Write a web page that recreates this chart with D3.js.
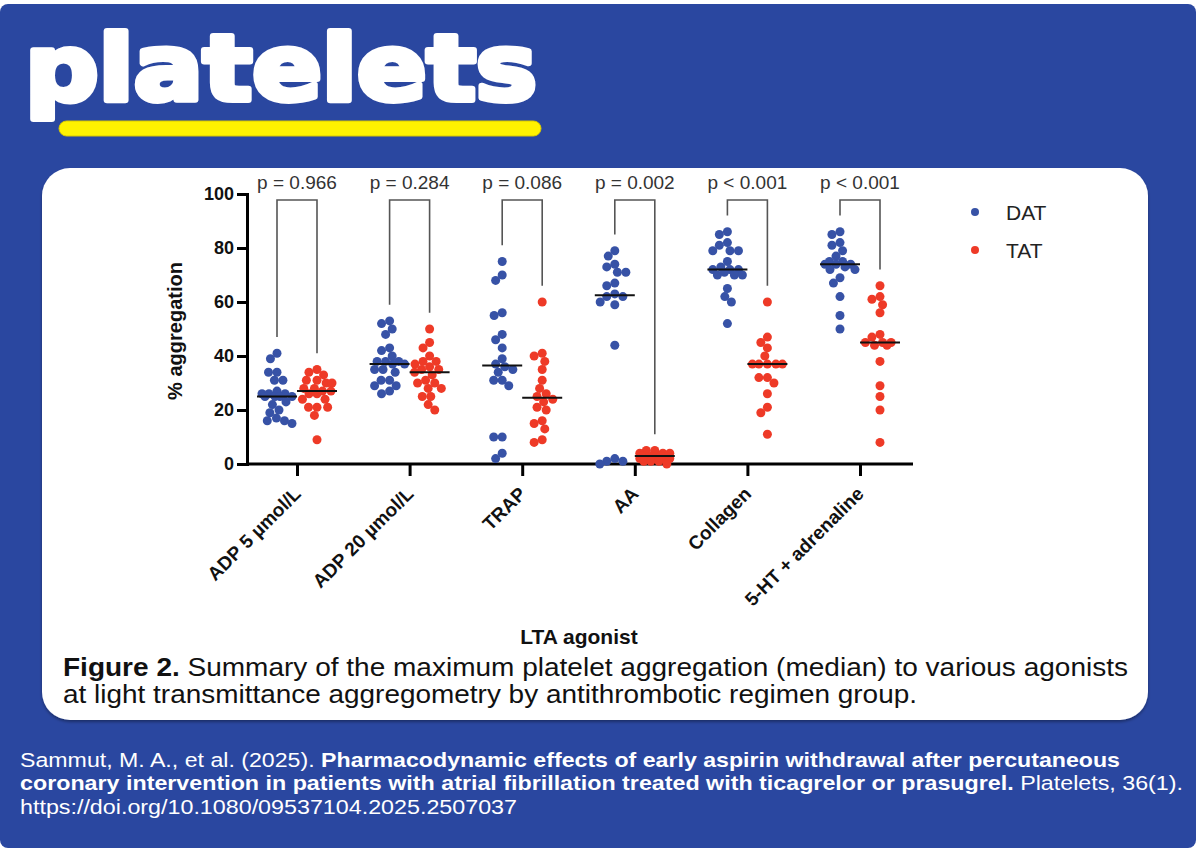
<!DOCTYPE html>
<html>
<head>
<meta charset="utf-8">
<script src="https://cdn.jsdelivr.net/npm/d3@7"></script>
<style>
  html, body { margin: 0; padding: 0; background: #fff; }
  svg text { font-family: "Liberation Sans", Arial, sans-serif; }
</style>
</head>
<body>
<svg id="chart" width="1200" height="867"></svg>
<script>
// agonists on the x axis
var agonists = ["ADP 5 µmol/L", "ADP 20 µmol/L", "TRAP", "AA", "Collagen", "5-HT + adrenaline"];
var pLabels = ["p = 0.966", "p = 0.284", "p = 0.086", "p = 0.002", "p < 0.001", "p < 0.001"];

// % aggregation per patient
var datValues = [
    [41, 39, 34, 34, 31, 31, 27, 26, 26, 26, 25, 25, 25, 25, 23, 22, 20, 19, 17, 16, 15, 16],
    [53, 52, 50, 48, 43, 42, 40, 38, 38, 38, 37, 37, 35, 35, 34, 31, 31, 29, 29, 27, 26],
    [75, 70, 68, 56, 55, 48, 46, 43, 39, 37, 36, 35, 34, 31, 31, 29, 10, 10, 4, 2],
    [79, 77, 74, 73, 71, 71, 67, 66, 63, 62, 62, 60, 59, 44, 2, 1, 1, 0],
    [86, 85, 82, 81, 79, 79, 79, 75, 73, 72, 72, 72, 71, 70, 70, 70, 65, 62, 60, 52],
    [86, 85, 82, 81, 79, 77, 75, 75, 74, 74, 74, 73, 72, 72, 69, 67, 62, 55, 50]
];
var tatValues = [
    [35, 34, 33, 31, 31, 30, 30, 28, 28, 27, 27, 26, 26, 24, 24, 21, 21, 21, 18, 9],
    [50, 45, 43, 40, 38, 38, 37, 36, 35, 35, 34, 33, 31, 30, 30, 28, 28, 25, 25, 22, 20],
    [60, 41, 40, 38, 35, 31, 28, 26, 25, 24, 23, 21, 20, 16, 15, 13, 9, 8],
    [5, 5, 4, 4, 4, 3, 3, 3, 3, 3, 3, 2, 2, 2, 2, 2, 1, 1, 1, 0],
    [60, 47, 45, 43, 40, 37, 37, 37, 37, 37, 32, 32, 30, 26, 21, 19, 11],
    [66, 62, 61, 59, 56, 48, 47, 45, 45, 45, 44, 44, 38, 29, 25, 20, 8]
];
var yTicks = [0, 20, 40, 60, 80, 100];
var groups = ["DAT", "TAT"];
var colors = {DAT: "#3752a6", TAT: "#ee3a27"};

var svg = d3.select("#chart");

// page frame
svg.append("rect")
    .attr("x", 0).attr("y", 4).attr("width", 1196).attr("height", 844).attr("rx", 8)
    .style("fill", "#2a47a0");

var defs = svg.append("defs");
var shadow = defs.append("filter").attr("id", "shadow").attr("x", "-5%").attr("y", "-5%").attr("width", "110%").attr("height", "115%");
shadow.append("feDropShadow").attr("dx", 0).attr("dy", 2).attr("stdDeviation", 1.5).attr("flood-color", "#000").attr("flood-opacity", 0.35);

svg.append("rect")
    .attr("x", 42).attr("y", 168).attr("width", 1106).attr("height", 552).attr("rx", 28)
    .style("fill", "#ffffff")
    .attr("filter", "url(#shadow)");

// logo
svg.append("text")
    .attr("x", 25).attr("y", 100)
    .attr("textLength", 512).attr("lengthAdjust", "spacingAndGlyphs")
    .style("font-family", "'DejaVu Sans', sans-serif")
    .style("font-weight", "bold")
    .style("font-size", "90px")
    .style("fill", "#fff")
    .style("stroke", "#fff")
    .style("stroke-width", 6)
    .style("stroke-linejoin", "round")
    .text("platelets");

svg.append("rect")
    .attr("x", 59).attr("y", 121).attr("width", 482).attr("height", 15).attr("rx", 7.5)
    .style("fill", "#fff200")
    .style("stroke", "#d9c800").style("stroke-width", 1);

// scales
var x = d3.scalePoint().domain(agonists).range([297, 860]);
var y = d3.scaleLinear().domain([0, 100]).range([464, 194]);
var offset = {DAT: -20, TAT: 20};
var dotR = 4.5, spacing = 8.5, maxSpread = 15;

// beeswarm: place each dot as close to the column centre as it can go,
// and let dots overlap once the column is full
function swarm(values) {
    var pts = values.map(function(v) { return {v: v, py: y(v)}; })
        .sort(function(a, b) { return a.py - b.py; });
    var placed = [];
    function minDist(c, p) {
        return d3.min(placed, function(q) {
            return Math.hypot(q.dx - c, q.py - p.py);
        });
    }
    pts.forEach(function(p) {
        if (!placed.length) { p.dx = 0; placed.push(p); return; }
        var cands = [0];
        placed.forEach(function(q) {
            var dy = p.py - q.py;
            if (Math.abs(dy) < spacing) {
                var dx = Math.sqrt(spacing * spacing - dy * dy);
                cands.push(q.dx + dx, q.dx - dx);
            }
        });
        cands = cands.filter(function(c) { return Math.abs(c) <= maxSpread; });
        cands.sort(function(a, b) { return Math.abs(a) - Math.abs(b) || a - b; });
        var found = cands.find(function(c) { return minDist(c, p) >= spacing - 0.01; });
        if (found === undefined) {
            var grid = d3.range(-maxSpread, maxSpread + 1, 1);
            found = grid[d3.maxIndex(grid, function(c) { return minDist(c, p); })];
        }
        p.dx = found;
        placed.push(p);
    });
    return placed;
}

var g = svg.append("g");

// axes
var yAxis = g.append("g")
    .attr("transform", "translate(247,0)")
    .call(d3.axisLeft(y).tickValues(yTicks).tickSize(10).tickPadding(3));
var xAxis = g.append("g")
    .attr("transform", "translate(0,464)")
    .call(d3.axisBottom(x).tickSize(12).tickFormat(""));
xAxis.select(".domain").attr("d", "M247,0H913");
g.selectAll(".domain, .tick line").style("stroke", "#000").style("stroke-width", 3);
yAxis.selectAll(".tick text")
    .style("font-size", "18px").style("font-weight", "bold").style("fill", "#111");

xAxis.selectAll(".xlabel")
    .data(agonists)
    .enter()
    .append("text")
        .attr("transform", function(d) { return "translate(" + (x(d) + 5) + ",31) rotate(-45)"; })
        .attr("text-anchor", "end")
        .style("font-size", "19px").style("font-weight", "bold").style("fill", "#111")
        .text(function(d) { return d; });

svg.append("text")
    .attr("transform", "translate(182,331) rotate(-90)")
    .attr("text-anchor", "middle")
    .style("font-size", "20px").style("font-weight", "bold").style("fill", "#111")
    .text("% aggregation");

svg.append("text")
    .attr("x", 579).attr("y", 644)
    .attr("text-anchor", "middle")
    .style("font-size", "21px").style("font-weight", "bold").style("fill", "#111")
    .text("LTA agonist");

// dots and medians
agonists.forEach(function(a, i) {
    groups.forEach(function(grp) {
        var vals = grp === "DAT" ? datValues[i] : tatValues[i];
        var cx = x(a) + offset[grp];
        g.selectAll(null)
            .data(swarm(vals))
            .enter()
            .append("circle")
                .attr("cx", function(d) { return cx + d.dx; })
                .attr("cy", function(d) { return d.py; })
                .attr("r", dotR)
                .style("fill", colors[grp]);
        var med = d3.median(vals);
        g.append("line")
            .attr("x1", cx - 20).attr("x2", cx + 20)
            .attr("y1", y(med)).attr("y2", y(med))
            .style("stroke", "#111").style("stroke-width", 2);
    });

    // significance bracket
    var xl = x(a) + offset.DAT, xr = x(a) + offset.TAT;
    var legL = d3.max(datValues[i]) + 6, legR = d3.max(tatValues[i]) + 6;
    g.append("path")
        .attr("d", "M" + xl + "," + y(legL) + "V" + y(97.8) + "H" + xr + "V" + y(legR))
        .style("fill", "none").style("stroke", "#555").style("stroke-width", 1.6);
    g.append("text")
        .attr("x", x(a)).attr("y", 189)
        .attr("text-anchor", "middle")
        .style("font-size", "19px").style("fill", "#333")
        .text(pLabels[i]);
});

// legend
var legend = svg.selectAll(".legend")
    .data(groups)
    .enter()
    .append("g")
        .attr("transform", function(d, i) { return "translate(975," + (212 + i * 38) + ")"; });
legend.append("circle").attr("r", 4).style("fill", function(d) { return colors[d]; });
legend.append("text")
    .attr("x", 31).attr("y", 7.5)
    .style("font-size", "21px").style("fill", "#222")
    .text(function(d) { return d; });

// caption
var cap = svg.append("text").attr("x", 63).attr("y", 676)
    .attr("textLength", 1065).attr("lengthAdjust", "spacingAndGlyphs")
    .style("font-size", "25px").style("fill", "#111");
cap.append("tspan").style("font-weight", "bold").text("Figure 2.");
cap.append("tspan").text(" Summary of the maximum platelet aggregation (median) to various agonists");
svg.append("text").attr("x", 63).attr("y", 703)
    .attr("textLength", 854).attr("lengthAdjust", "spacingAndGlyphs")
    .style("font-size", "25px").style("fill", "#111")
    .text("at light transmittance aggregometry by antithrombotic regimen group.");

// citation
var cite = svg.append("g").style("fill", "#fff").style("font-size", "20.5px");
var l1 = cite.append("text").attr("x", 20).attr("y", 767)
    .attr("textLength", 1100).attr("lengthAdjust", "spacingAndGlyphs");
l1.append("tspan").text("Sammut, M. A., et al. (2025). ");
l1.append("tspan").style("font-weight", "bold").text("Pharmacodynamic effects of early aspirin withdrawal after percutaneous");
var l2 = cite.append("text").attr("x", 20).attr("y", 790)
    .attr("textLength", 1163).attr("lengthAdjust", "spacingAndGlyphs");
l2.append("tspan").style("font-weight", "bold").text("coronary intervention in patients with atrial fibrillation treated with ticagrelor or prasugrel.");
l2.append("tspan").text(" Platelets, 36(1).");
cite.append("text").attr("x", 20).attr("y", 814)
    .attr("textLength", 497).attr("lengthAdjust", "spacingAndGlyphs")
    .text("https://doi.org/10.1080/09537104.2025.2507037");
</script>
</body>
</html>
